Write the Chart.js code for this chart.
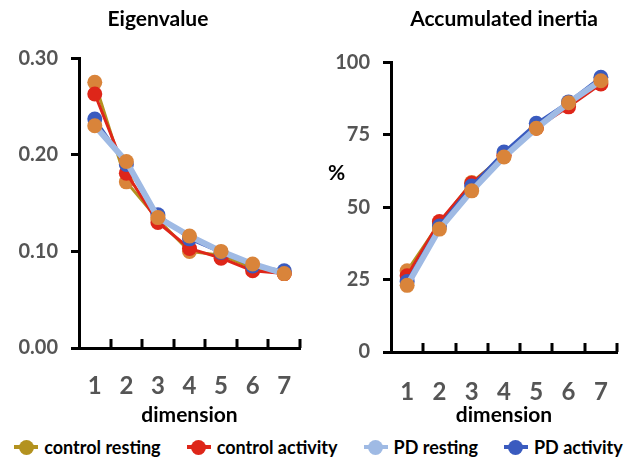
<!DOCTYPE html>
<html>
<head>
<meta charset="utf-8">
<script src="https://cdn.jsdelivr.net/npm/chart.js@4.4.1/dist/chart.umd.min.js"></script>
<style>
  body { margin: 0; background: #fff; font-family: Lato, sans-serif; }
  #wrap { position: relative; width: 633px; height: 458px; overflow: hidden; }
  #eigen { position: absolute; left: 0; top: 0; }
  #inertia { position: absolute; left: 316px; top: 0; }
  #pct { position: absolute; left: 328px; top: 159px; font: bold 21px Lato, sans-serif; color: #000; }
  #legend { position: absolute; left: 2px; top: 436px; width: 633px; display: flex; justify-content: center; gap: 26px; font: bold 18px Lato, sans-serif; color: #000; }
  .item { display: flex; align-items: center; }
  .mk { position: relative; width: 24px; height: 15px; margin-right: 6px; }
  .mk .ln { position: absolute; left: 0; right: 0; top: 5.5px; height: 4px; }
  .mk .dot { position: absolute; left: 4.5px; top: 0; width: 15px; height: 15px; border-radius: 50%; }
</style>
</head>
<body>
<div id="wrap">
  <canvas id="eigen" width="316" height="434"></canvas>
  <canvas id="inertia" width="317" height="434"></canvas>
  <div id="pct">%</div>
  <div id="legend"></div>
</div>
<script>
// dimensions on the x axis
const dimensions = ['1', '2', '3', '4', '5', '6', '7'];
const seriesNames = ['control resting', 'control activity', 'PD resting', 'PD activity'];

// eigenvalues per dimension
const eigControlResting = [0.275, 0.172, 0.133, 0.100, 0.096, 0.083, 0.077];
const eigControlActivity = [0.263, 0.181, 0.130, 0.103, 0.093, 0.080, 0.077];
const eigPdResting = [0.230, 0.193, 0.135, 0.116, 0.100, 0.087, 0.077];
const eigPdActivity = [0.237, 0.190, 0.138, 0.113, 0.099, 0.085, 0.080];

// accumulated inertia (%) per dimension
const accControlResting = [28.0, 44.5, 58.5, 67.8, 77.2, 85.5, 93.0];
const accControlActivity = [26.3, 45.0, 58.2, 67.8, 77.3, 84.6, 92.5];
const accPdResting = [23.0, 42.4, 55.6, 67.3, 77.2, 86.0, 93.6];
const accPdActivity = [24.3, 43.5, 57.3, 69.0, 78.9, 86.3, 94.8];

// y tick labels
const eigTicks = [0, 0.10, 0.20, 0.30];
const accTicks = [0, 25, 50, 75, 100];

const gold = '#B3921F';
const red = '#DE2619';
const lightBlue = '#9FBAE4';
const blue = '#3A5BBF';
const orange = '#D9843A';
const tickGrey = '#555555';

// line colour, marker colour, line width, draw order
const styles = [
  { line: gold, marker: orange, legendMarker: gold, width: 3, order: 4 },
  { line: red, marker: red, legendMarker: red, width: 3, order: 3 },
  { line: lightBlue, marker: orange, legendMarker: lightBlue, width: 6, order: 1 },
  { line: blue, marker: blue, legendMarker: blue, width: 3, order: 2 }
];

// short tick marks pointing up from the x axis at category boundaries
const upTicks = {
  id: 'upTicks',
  afterDraw(chart) {
    const xs = chart.scales.x;
    const ctx = chart.ctx;
    const bottom = chart.chartArea.bottom;
    const w = (xs.right - xs.left) / dimensions.length;
    ctx.save();
    ctx.strokeStyle = '#000';
    ctx.lineWidth = 3;
    for (let i = 1; i <= dimensions.length; i++) {
      const px = Math.round(xs.left + i * w);
      ctx.beginPath();
      ctx.moveTo(px, bottom);
      ctx.lineTo(px, bottom - 9);
      ctx.stroke();
    }
    ctx.restore();
  }
};

function makeChart(id, title, series, ticks, fmt, opts) {
  const datasets = series.map((values, i) => ({
    label: seriesNames[i],
    data: values,
    borderColor: styles[i].line,
    backgroundColor: styles[i].marker,
    pointBackgroundColor: styles[i].marker,
    pointBorderColor: styles[i].marker,
    pointBorderWidth: 0,
    pointRadius: 7.5,
    borderWidth: styles[i].width,
    tension: 0,
    order: styles[i].order
  }));

  const scales = {
    x: {
      offset: true,
      afterFit(scale) { scale.height = opts.xHeight; },
      grid: { display: false },
      border: { display: true, color: '#000', width: 3 },
      ticks: { color: tickGrey, padding: opts.xPad, font: { family: 'Lato', size: 24, weight: 'bold' } },
      title: {
        display: true,
        text: 'dimension',
        color: '#000',
        padding: { top: 0, bottom: 0 },
        font: { family: 'Lato', size: 21, weight: 'bold' }
      }
    },
    y: {
      min: ticks[0],
      max: ticks[ticks.length - 1],
      afterFit(scale) { scale.width = opts.axisX; },
      afterBuildTicks(scale) { scale.ticks = ticks.map(v => ({ value: v })); },
      grid: { drawOnChartArea: false, drawTicks: true, tickLength: 8, color: '#000', lineWidth: 3 },
      border: { display: true, color: '#000', width: 3 },
      ticks: {
        color: tickGrey,
        padding: 13,
        font: { family: 'Lato', size: 20, weight: 'bold' },
        callback: v => fmt(v)
      }
    }
  };
  if (opts.spacer) {
    // empty right-hand box so the title is centred on the whole canvas
    scales.spacer = {
      type: 'linear',
      position: 'right',
      afterFit(scale) { scale.width = opts.spacer; },
      grid: { display: false },
      border: { display: false },
      ticks: { display: false }
    };
  }

  return new Chart(document.getElementById(id), {
    type: 'line',
    data: { labels: dimensions, datasets: datasets },
    plugins: [upTicks],
    options: {
      responsive: false,
      animation: false,
      layout: { padding: { left: 0, right: opts.right, top: 0, bottom: opts.bottom } },
      plugins: {
        legend: { display: false },
        tooltip: { enabled: false },
        title: {
          display: true,
          text: title,
          color: '#000',
          fullSize: opts.titleFull,
          font: { family: 'Lato', size: 21, weight: 'bold' },
          padding: { top: 7, bottom: opts.titleGap },
          align: 'center'
        }
      },
      scales: scales
    }
  });
}

makeChart('eigen', 'Eigenvalue',
  [eigControlResting, eigControlActivity, eigPdResting, eigPdActivity],
  eigTicks, v => v.toFixed(2),
  { axisX: 79, right: 0, spacer: 16, titleFull: true, titleGap: 26, xHeight: 80, xPad: 16, bottom: 6 });

makeChart('inertia', 'Accumulated inertia',
  [accControlResting, accControlActivity, accPdResting, accPdActivity],
  accTicks, v => String(v),
  { axisX: 75, right: 16, titleFull: false, titleGap: 30, xHeight: 76, xPad: 18, bottom: 6 });

// shared legend under both panels
const legend = document.getElementById('legend');
seriesNames.forEach((name, i) => {
  const item = document.createElement('div');
  item.className = 'item';
  const mk = document.createElement('div');
  mk.className = 'mk';
  const ln = document.createElement('div');
  ln.className = 'ln';
  ln.style.background = styles[i].legendMarker;
  const dot = document.createElement('div');
  dot.className = 'dot';
  dot.style.background = styles[i].legendMarker;
  mk.appendChild(ln);
  mk.appendChild(dot);
  const label = document.createElement('span');
  label.textContent = name;
  item.appendChild(mk);
  item.appendChild(label);
  legend.appendChild(item);
});
</script>
</body>
</html>
